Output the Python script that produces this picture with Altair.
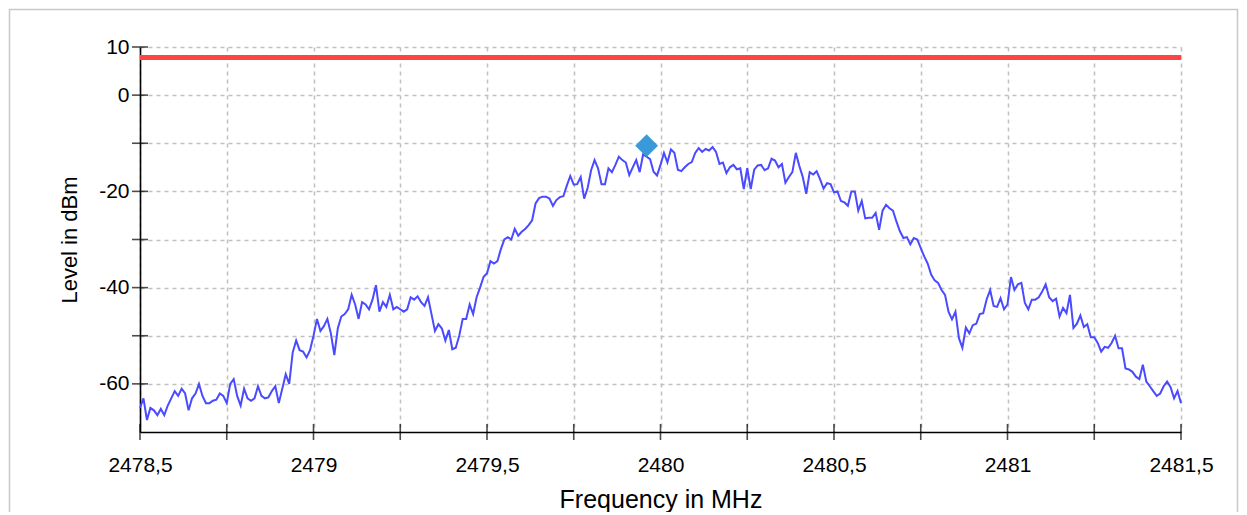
import altair as alt
import pandas as pd

# Measured spectrum level (dBm), sampled every 0.01 MHz from 2478.5 MHz
level_dbm = [
    -65, -63, -67.5, -65, -65.5, -66.5, -65.2, -66.5, -64.5, -63,
    -61.5, -62.5, -61, -62, -65.5, -63, -62, -60, -62.5, -64,
    -64, -63.5, -63.3, -62, -62.5, -64, -60, -59, -62.5, -64.5,
    -61, -63, -63.5, -63, -60.5, -62.5, -63, -62.8, -61.5, -60.5,
    -64, -61, -58, -60, -53.5, -51, -53, -53.3, -54.5, -53,
    -50,
    -46.5, -49, -48, -46.5, -49.5, -54, -48.5, -46, -45.5, -44.5,
    -41.5, -43.5, -46.5, -43, -43.5, -44.5, -42.5, -39.5, -45, -43,
    -44, -41.5, -44.5, -44, -44.5, -45, -44.5, -42, -42.5, -41.8,
    -43, -43.8, -42, -45.5, -49, -47.6, -48.5, -51, -48.8, -52.8,
    -52.5, -50, -46.5, -46.5, -43.5, -45.5, -42, -40, -37.8, -37,
    -34.5, -35, -34.5, -32, -30, -29.5, -30, -27.8, -29.2, -28.4,
    -27.8, -27, -26, -22.5, -21.4, -21.1, -21.1, -21.5, -23, -21.8,
    -21.2, -21, -18.8, -16.8, -18.6, -18.5, -17, -21.5, -19.3, -15.6,
    -13.5, -15.2, -18.5, -18.5, -15.2, -16, -14.5, -12.8, -13.5, -14,
    -16.6, -15, -13.5, -16, -12.3, -12.8, -13.3, -15.9, -16.7, -14.5,
    -12, -14, -11.3, -12, -15.5, -15.8, -15, -14.3, -13.9, -12,
    -11, -11.8, -11.2, -11.5, -10.8, -11.8, -14.3, -14, -16.2, -15,
    -14.5, -15.4, -15.2, -19.5, -15.2, -19.5, -15.5, -14.6, -14.5, -15.6,
    -15.2, -13.2, -13.6, -15, -14.3, -18.2, -17, -16, -12, -14.7,
    -17, -20.5, -16, -16.5, -15.8, -17.5, -19.4, -18.3, -18.5, -20.2,
    -20, -22, -22.3, -23, -20, -20, -24, -22, -25.6, -25.5,
    -25.5, -24.5, -28, -24, -22.8, -23.5, -24, -26.3, -28.3, -29.7,
    -29.5, -31, -29.7, -30, -31.8, -33.5, -35, -37.3, -38.5, -39,
    -40.5, -41.5, -45, -46.6, -45, -50.5, -52.5, -48.3, -49.5, -47.8,
    -47.5, -45.5, -45.3, -42.4, -40.5, -43.8, -44, -42.2, -44.5, -43.5,
    -37.8, -40.5, -39.3, -39, -43.2, -44.5, -42.5, -42.5, -42, -40.8,
    -39.3, -42, -42.8, -42.3, -46, -44.2, -45.3, -41.5, -48.4, -47.5,
    -45.8, -48.2, -47.6, -50.3, -50.3, -51.5, -53.3, -52.3, -52.5, -51.5,
    -50, -52.6, -52.6, -56.8, -57, -57.5, -58.5, -59, -56, -59.5,
    -60.5, -61.5, -62.5, -62, -60.5, -59.5, -60.7, -63, -61.5, -64,
]
freq_start_mhz = 2478.5
freq_step_mhz = 0.01
freq_mhz = [round(freq_start_mhz + freq_step_mhz * i, 3) for i in range(len(level_dbm))]

limit_dbm = [7.8]
marker_freq = [2479.96]
marker_level = [-10.5]

x_tick_values = [2478.5, 2478.75, 2479.0, 2479.25, 2479.5, 2479.75, 2480.0,
                 2480.25, 2480.5, 2480.75, 2481.0, 2481.25, 2481.5]
y_tick_values = [10, 0, -10, -20, -30, -40, -50, -60]
x_domain = [2478.5, 2481.5]
y_domain = [-70, 10]

FONT = "Liberation Sans"

spec_df = pd.DataFrame({"freq": freq_mhz, "level": level_dbm})
limit_df = pd.DataFrame({"level": limit_dbm})
marker_df = pd.DataFrame({"freq": marker_freq, "level": marker_level})
xt_df = pd.DataFrame({"freq": x_tick_values})
yt_df = pd.DataFrame({"level": y_tick_values})

x_scale = alt.Scale(domain=x_domain, nice=False, zero=False)
y_scale = alt.Scale(domain=y_domain, nice=False, zero=False)

x_axis = alt.Axis(
    values=x_tick_values,
    labelExpr="(datum.value * 2) % 1 == 0 ? replace(format(datum.value, '.1~f'), '.', ',') : ''",
    title="Frequency in MHz",
    ticks=False,
    labelFlush=False,
    labelPadding=22,
    titlePadding=12,
    titleFontSize=25,
)
y_axis = alt.Axis(
    values=y_tick_values,
    labelExpr="(datum.value == 10 || datum.value % 20 == 0) ? toString(datum.value) : ''",
    title="Level in dBm",
    ticks=False,
    labelFlush=False,
    labelPadding=11,
    titlePadding=17,
    titleFontSize=22,
)

frame = alt.Chart(pd.DataFrame({"a": [0]})).mark_rect(
    filled=False, stroke="#c8c8c8", strokeWidth=1.5
).encode(
    x=alt.value(-130.5), x2=alt.value(1097.5), y=alt.value(-37.5), y2=alt.value(500)
)

spectrum = alt.Chart(spec_df).mark_line(color="#4a4aff", strokeWidth=2).encode(
    x=alt.X("freq:Q", scale=x_scale, axis=x_axis),
    y=alt.Y("level:Q", scale=y_scale, axis=y_axis),
)

limit = alt.Chart(limit_df).mark_rule(color="#ff4444", strokeWidth=5).encode(
    y=alt.Y("level:Q")
)

marker = alt.Chart(marker_df).mark_point(
    shape="diamond", filled=True, color="#3a9ad9", size=520, opacity=1
).encode(x="freq:Q", y="level:Q")

xticks = alt.Chart(xt_df).mark_tick(
    orient="vertical", size=16, thickness=1.6, color="black"
).encode(x="freq:Q", y=alt.datum(-70))

yticks = alt.Chart(yt_df).mark_tick(
    orient="horizontal", size=16, thickness=1.6, color="black"
).encode(y="level:Q", x=alt.datum(2478.5))

chart = alt.layer(frame, spectrum, limit, marker, xticks, yticks).properties(
    width=1041,
    height=385,
    autosize=alt.AutoSizeParams(type="none"),
    padding={"left": 132, "top": 39, "right": 58, "bottom": 80},
).configure_view(strokeWidth=0).configure_axis(
    grid=True,
    gridColor="#c0c0c0",
    gridDash=[4, 4],
    gridWidth=1.5,
    domainColor="black",
    domainWidth=1.6,
    labelFont=FONT,
    labelFontSize=21,
    labelColor="black",
    titleFont=FONT,
    titleFontWeight="normal",
    titleColor="black",
)

chart.save("out.html", embed_options={"renderer": "svg", "actions": False})
